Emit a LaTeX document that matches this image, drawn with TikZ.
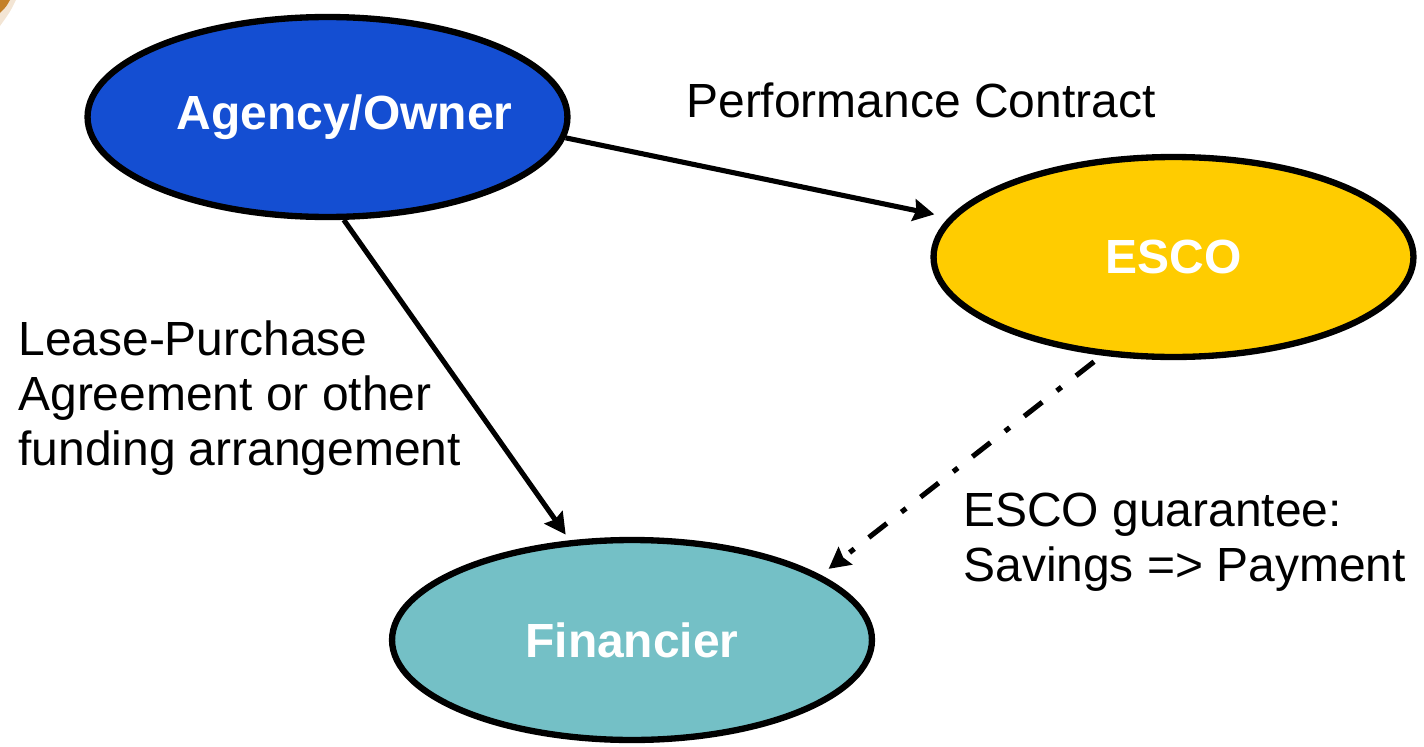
\documentclass[tikz,border=0pt]{standalone}
\usepackage{fontspec}
\setmainfont{Liberation Sans}
\usetikzlibrary{arrows.meta,shapes.geometric,positioning}
\definecolor{ownerblue}{RGB}{20,78,210}
\definecolor{escoyellow}{RGB}{255,204,0}
\definecolor{financeteal}{RGB}{116,192,198}
\definecolor{cornerbrown}{RGB}{196,128,40}
\tikzset{
  party/.style={ellipse, draw=black, line width=3.6pt, minimum width=9.6cm, minimum height=4cm,
    inner sep=0pt, text=white, font=\fontsize{27.3}{31.3}\selectfont\bfseries},
  deal/.style={line width=2.9pt, -{Stealth[length=12pt,width=12.5pt,inset=1.5pt]}},
  note/.style={inner sep=0pt, align=left, font=\fontsize{27.3}{31.3}\selectfont}
}
\begin{document}
\begin{tikzpicture}[x=0.02cm, y=-0.02cm]
    \useasboundingbox (0,0) rectangle (1424,747);
    % scrap of the slide background in the corner
    \fill[cornerbrown!20] (0,0) -- (16,0) .. controls (10,12) .. (0,26) -- cycle;
    \fill[cornerbrown] (0,0) -- (10,0) .. controls (6,7) .. (0,13) -- cycle;

    % the three parties
    \node[party, fill=ownerblue,
          label={[party, draw=none, minimum size=0pt, xshift=0.34cm]center:Agency/Owner}] (owner) at (327.5,117) {};
    \node[party, fill=escoyellow] (esco) at (1173.5,257) {ESCO};
    \node[party, fill=financeteal] (financier) at (632,640) {Financier};

    % agreements between them
    \draw[deal, shorten >=0.3cm] (owner.-5) -- (esco.170); % performance contract
    \draw[deal, shorten >=0.14cm] (owner.-81) -- (financier.122); % funding
    \draw[deal, dash pattern=on 13pt off 10.5pt on 3.4pt off 10.5pt,
          shorten <=0.2cm, shorten >=0.2cm] (esco.-126) -- (financier.19); % guarantee

    % labels
    \node[note, anchor=north west] (contractlabel) at (686,82) {Performance Contract};
    \node[note, anchor=north west] (leaselabel) at (18,320) {Lease-Purchase\\Agreement or other\\funding arrangement};
    \node[note, anchor=north west] (guaranteelabel) at (963,493) {ESCO guarantee:\\Savings => Payment};
\end{tikzpicture}
\end{document}
